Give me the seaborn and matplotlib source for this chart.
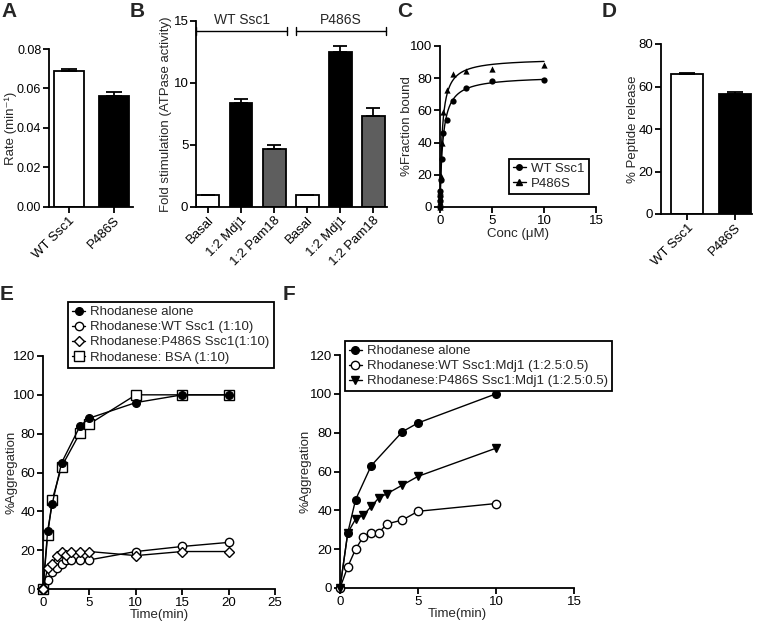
import numpy as np
import pandas as pd
import matplotlib
matplotlib.use('Agg')
import matplotlib.pyplot as plt
from matplotlib.lines import Line2D
import seaborn as sns

# A: rate
a_labels = ['WT Ssc1', 'P486S']
a_rate = [0.069, 0.056]
a_err = [0.001, 0.002]

# B: fold stimulation of ATPase activity
b_groups = ['WT Ssc1', 'P486S']
b_conditions = ['Basal', '1:2 Mdj1', '1:2 Pam18']
b_wt = [1.0, 8.4, 4.7]
b_wt_err = [0.0, 0.3, 0.3]
b_mut = [1.0, 12.5, 7.3]
b_mut_err = [0.0, 0.45, 0.7]

# C: binding
c_conc = [0, 0.01, 0.02, 0.04, 0.08, 0.16, 0.31, 0.625, 1.25, 2.5, 5, 10]
c_wt = [0, 4, 7, 10, 17, 30, 46, 54, 66, 74, 78, 79]
c_mut = [0, 3, 6, 10, 19, 39.5, 59, 72.5, 82.5, 84.5, 85.5, 88]

# D: peptide release
d_labels = ['WT Ssc1', 'P486S']
d_release = [66.0, 56.5]
d_err = [0.4, 1.0]

# E: aggregation with chaperone alone
e_time_a = [0, 0.5, 1, 2, 4, 5, 10, 15, 20]
e_alone = [0, 30, 44, 65, 84, 88, 96, 100, 100]
e_bsa = [0, 28, 46, 63, 80.5, 85, 100, 100, 100]
e_time_c = [0, 0.5, 1, 1.5, 2, 2.5, 3, 4, 5, 10, 15, 20]
e_wt = [0, 4.6, 8.6, 10.7, 13, 15, 15, 15, 15, 19.3, 21.9, 24]
e_mut = [0, 10.7, 13, 17, 19.3, 17.5, 19.3, 19.3, 19.3, 17.2, 19.3, 19.3]

# F: aggregation with chaperone + Mdj1
f_time_a = [0, 0.5, 1, 2, 4, 5, 10]
f_alone = [0, 28.5, 45.5, 63, 80.5, 85, 100]
f_time_c = [0, 0.5, 1, 1.5, 2, 2.5, 3, 4, 5, 10]
f_wt = [0, 11, 20, 26.5, 28.5, 28.5, 33, 35, 39.5, 43.5]
f_mut = [0, 28.5, 35.5, 37.5, 42, 46.5, 48.5, 53, 57.5, 72]

sns.set_style('ticks')
plt.rcParams['font.family'] = ['Liberation Sans', 'DejaVu Sans']
plt.rcParams['axes.linewidth'] = 1.3
plt.rcParams['xtick.major.width'] = 1.3
plt.rcParams['ytick.major.width'] = 1.3
plt.rcParams['xtick.major.size'] = 4
plt.rcParams['ytick.major.size'] = 4
plt.rcParams['xtick.labelsize'] = 9.5
plt.rcParams['ytick.labelsize'] = 9.5
plt.rcParams['axes.labelsize'] = 9.5
plt.rcParams['axes.labelpad'] = 1
plt.rcParams['axes.edgecolor'] = 'black'
plt.rcParams['xtick.color'] = 'black'
plt.rcParams['ytick.color'] = 'black'

W, H = 760, 624
fig = plt.figure(figsize=(7.6, 6.24), dpi=100)


def box(l, t, r, b):
    return [l / W, 1 - b / H, (r - l) / W, (b - t) / H]


axA = fig.add_axes(box(49, 49, 133, 207))
axB = fig.add_axes(box(196, 21, 387, 207))
axC = fig.add_axes(box(440, 46, 596, 207))
axD = fig.add_axes(box(661, 44, 752, 214))
axE = fig.add_axes(box(43, 356, 275, 589))
axF = fig.add_axes(box(340, 355, 574, 588))

errkw = dict(fmt='none', ecolor='black', elinewidth=1.3, capthick=1.3)
rot = dict(rotation=45, ha='right', rotation_mode='anchor')
legkw = dict(loc='upper left', borderaxespad=0, fontsize=9.5, handlelength=1.0,
             handletextpad=0.4, labelspacing=0.22, borderpad=0.3, fancybox=False,
             framealpha=1, edgecolor='black')

# ---- A
dfA = pd.DataFrame({'label': a_labels, 'rate': a_rate})
sns.barplot(data=dfA, x='label', y='rate', hue='label', palette=['white', 'black'],
            edgecolor='black', linewidth=1.3, width=0.67, saturation=1,
            legend=False, ax=axA)
axA.errorbar(range(2), a_rate, yerr=[np.zeros(2), a_err], capsize=6, **errkw)
axA.set_xlim(-0.44, 1.42)
axA.set_ylim(0, 0.08)
axA.set_yticks([0, 0.02, 0.04, 0.06, 0.08])
axA.set_yticklabels(['0.00', '0.02', '0.04', '0.06', '0.08'], fontsize=9)
axA.set_xticks(range(2))
axA.set_xticklabels(a_labels, **rot)
axA.set_xlabel('')
axA.set_ylabel('Rate (min\u207b\u00b9)', fontsize=9.5)
axA.yaxis.set_label_coords((17 - 49) / 84, 0.5)

# ---- B
keys = [g + ' ' + c for g in b_groups for c in b_conditions]
dfB = pd.DataFrame({'key': keys, 'fold': b_wt + b_mut})
sns.barplot(data=dfB, x='key', y='fold', hue='key',
            palette=['white', 'black', '#5e5e5e'] * 2,
            edgecolor='black', linewidth=1.3, width=0.69, saturation=1,
            legend=False, ax=axB)
axB.errorbar(range(6), b_wt + b_mut, yerr=[np.zeros(6), b_wt_err + b_mut_err],
             capsize=5, **errkw)
axB.set_xlim(-0.36, 5.41)
axB.set_ylim(0, 15)
axB.set_yticks([0, 5, 10, 15])
axB.set_xticks(range(6))
axB.set_xticklabels(b_conditions * 2, **rot)
axB.set_xlabel('')
axB.set_ylabel('Fold stimulation (ATPase activity)')
for i, g in enumerate(b_groups):
    x0, x1 = 3 * i - 0.35, 3 * i + 2.38
    yb = 14.2
    axB.plot([x0, x1], [yb, yb], color='black', lw=1, clip_on=False)
    for xx in (x0, x1):
        axB.plot([xx, xx], [yb - 0.3, yb + 0.3], color='black', lw=1, clip_on=False)
    axB.text((x0 + x1) / 2, 15.05, g, ha='center', va='center', fontsize=10)


# ---- C  (one-site binding fit computed from the points)
def fit_hyperbola(x, y):
    x = np.asarray(x, float)
    y = np.asarray(y, float)
    best = None
    for kd in np.linspace(0.01, 2, 4000):
        f = x / (kd + x)
        bmax = (f * y).sum() / (f * f).sum()
        sse = ((bmax * f - y) ** 2).sum()
        if best is None or sse < best[0]:
            best = (sse, bmax, kd)
    return best[1], best[2]


xf = np.linspace(0, 10, 400)
for yv, mk, ms in [(c_wt, 'o', 4.5), (c_mut, '^', 4.5)]:
    bmax, kd = fit_hyperbola(c_conc, yv)
    sns.lineplot(x=xf, y=bmax * xf / (kd + xf), color='black', lw=1, ax=axC)
    sns.scatterplot(x=c_conc, y=yv, marker=mk, s=ms ** 2, color='black',
                    edgecolor='black', linewidth=0, ax=axC, clip_on=False, zorder=3)
axC.set_xlim(0, 15)
axC.set_ylim(0, 100)
axC.set_xticks([0, 5, 10, 15])
axC.set_yticks([0, 20, 40, 60, 80, 100])
axC.set_xlabel('Conc (\u03bcM)')
axC.set_ylabel('%Fraction bound')
axC.yaxis.set_label_coords((413 - 440) / 156, 0.5)
hC = [Line2D([], [], color='black', lw=1, marker='o', ms=4),
      Line2D([], [], color='black', lw=1, marker='^', ms=4)]
legC = axC.legend(hC, ['WT Ssc1', 'P486S'], bbox_to_anchor=(0.44, 0.30), **legkw)
legC.get_frame().set_linewidth(1.3)

# ---- D
dfD = pd.DataFrame({'label': d_labels, 'rel': d_release})
sns.barplot(data=dfD, x='label', y='rel', hue='label', palette=['white', 'black'],
            edgecolor='black', linewidth=1.3, width=0.67, saturation=1,
            legend=False, ax=axD)
axD.errorbar(range(2), d_release, yerr=[np.zeros(2), d_err], capsize=5.5, **errkw)
axD.set_xlim(-0.54, 1.35)
axD.set_ylim(0, 80)
axD.set_yticks([0, 20, 40, 60, 80])
axD.set_xticks(range(2))
axD.set_xticklabels(d_labels, **rot)
axD.set_xlabel('')
axD.set_ylabel('% Peptide release')
axD.yaxis.set_label_coords((639 - 661) / 91, 0.5)

# ---- E
lkw = dict(color='black', linewidth=1, markeredgecolor='black',
           markeredgewidth=1, clip_on=False)
sns.lineplot(x=e_time_a, y=e_bsa, marker='s', markersize=6.5, markerfacecolor='white',
             label='Rhodanese: BSA (1:10)', ax=axE, zorder=2, **lkw)
sns.lineplot(x=e_time_a, y=e_alone, marker='o', markersize=5.5, markerfacecolor='black',
             label='Rhodanese alone', ax=axE, zorder=3, **lkw)
sns.lineplot(x=e_time_c, y=e_wt, marker='o', markersize=6, markerfacecolor='white',
             label='Rhodanese:WT Ssc1 (1:10)', ax=axE, zorder=3, **lkw)
sns.lineplot(x=e_time_c, y=e_mut, marker='D', markersize=5.5, markerfacecolor='white',
             label='Rhodanese:P486S Ssc1(1:10)', ax=axE, zorder=3, **lkw)
axE.set_xlim(0, 25)
axE.set_ylim(0, 120)
axE.set_xticks([0, 5, 10, 15, 20, 25])
axE.set_yticks(range(0, 121, 20))
axE.set_xlabel('Time(min)', labelpad=0)
axE.set_ylabel('%Aggregation')
axE.yaxis.set_label_coords((18 - 43) / 232, 0.5)
hE, lE = axE.get_legend_handles_labels()
order = [1, 2, 3, 0]
legE = axE.legend([hE[i] for i in order], [lE[i] for i in order],
                  bbox_to_anchor=(0.108, 1.232), **legkw)
legE.get_frame().set_linewidth(1.3)

# ---- F
sns.lineplot(x=f_time_a, y=f_alone, marker='o', markersize=5.5, markerfacecolor='black',
             label='Rhodanese alone', ax=axF, zorder=3, **lkw)
sns.lineplot(x=f_time_c, y=f_wt, marker='o', markersize=6, markerfacecolor='white',
             label='Rhodanese:WT Ssc1:Mdj1 (1:2.5:0.5)', ax=axF, zorder=3, **lkw)
sns.lineplot(x=f_time_c, y=f_mut, marker='v', markersize=5.5, markerfacecolor='black',
             label='Rhodanese:P486S Ssc1:Mdj1 (1:2.5:0.5)', ax=axF, zorder=3, **lkw)
axF.set_xlim(0, 15)
axF.set_ylim(0, 120)
axF.set_xticks([0, 5, 10, 15])
axF.set_yticks(range(0, 121, 20))
axF.set_xlabel('Time(min)', labelpad=0)
axF.set_ylabel('%Aggregation')
axF.yaxis.set_label_coords((311 - 340) / 234, 0.5)
legF = axF.legend(bbox_to_anchor=(0.021, 1.06), **legkw)
legF.get_frame().set_linewidth(1.3)

for ax in [axA, axB, axC, axD, axE, axF]:
    sns.despine(ax=ax)
    ax.tick_params(direction='out', pad=1.5)

for letter, (x, y) in {'A': (1, 2), 'B': (130, 2), 'C': (397, 2), 'D': (602, 2),
                       'E': (0, 285), 'F': (283, 285)}.items():
    fig.text(x / W, 1 - y / H, letter, fontsize=15, fontweight='bold',
             ha='left', va='top')

fig.savefig('out.png', dpi=100)
